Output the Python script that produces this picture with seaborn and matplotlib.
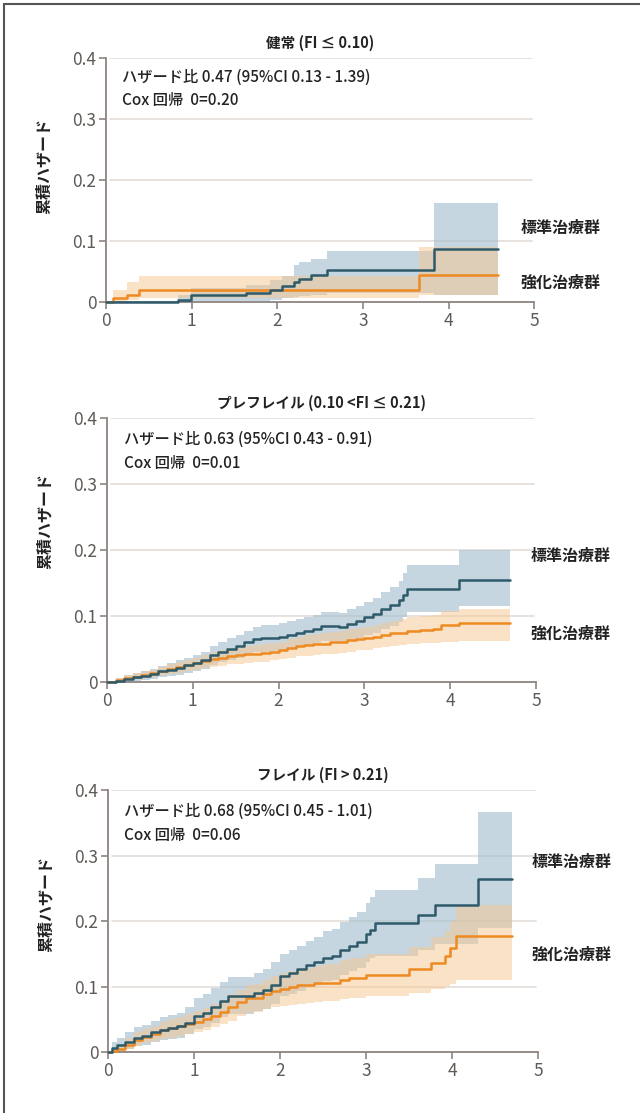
import numpy as np
import pandas as pd
import seaborn as sns
import matplotlib.pyplot as plt
from matplotlib.lines import Line2D
from matplotlib.ticker import FuncFormatter

# ---- data ----
titles = ["健常 (FI ≤ 0.10)", "プレフレイル (0.10 <FI ≤ 0.21)", "フレイル (FI > 0.21)"]
hr_texts = ["ハザード比 0.47 (95%CI 0.13 - 1.39)",
            "ハザード比 0.63 (95%CI 0.43 - 0.91)",
            "ハザード比 0.68 (95%CI 0.45 - 1.01)"]
cox_texts = ["Cox 回帰  0=0.20", "Cox 回帰  0=0.01", "Cox 回帰  0=0.06"]
group_names = ["標準治療群", "強化治療群"]

# panel 1 : normal
std1_t = [0, 0.84, 0.99, 1.63, 1.91, 2.06, 2.2, 2.25, 2.39, 2.58, 3.83, 4.58]
std1_h = [0, 0.003, 0.011, 0.015, 0.02, 0.026, 0.032, 0.038, 0.044, 0.052, 0.087, 0.087]
std1_lo = [0, 0, 0.001, 0.002, 0.004, 0.006, 0.008, 0.01, 0.012, 0.015, 0.012, 0.012]
std1_hi = [0, 0.012, 0.023, 0.028, 0.036, 0.043, 0.06, 0.065, 0.07, 0.083, 0.163, 0.163]
int1_t = [0, 0.08, 0.25, 0.38, 3.66, 4.58]
int1_h = [0, 0.006, 0.012, 0.02, 0.044, 0.044]
int1_lo = [0, 0.001, 0.003, 0.006, 0.012, 0.012]
int1_hi = [0, 0.02, 0.032, 0.042, 0.09, 0.09]

# panel 2 : pre-frail
std2_t = [0, 0.1, 0.2, 0.3, 0.4, 0.5, 0.6, 0.7, 0.8, 0.9, 1.0, 1.1, 1.2, 1.3, 1.4,
          1.5, 1.6, 1.7, 1.8, 1.9, 2.0, 2.1, 2.2, 2.3, 2.4, 2.5, 2.6, 2.7, 2.8, 2.9,
          3.0, 3.1, 3.2, 3.3, 3.4, 3.45, 3.5, 4.1, 4.7]
std2_h = [0, 0.002, 0.004, 0.007, 0.009, 0.012, 0.016, 0.019, 0.022, 0.026, 0.029,
          0.033, 0.041, 0.046, 0.05, 0.055, 0.06, 0.065, 0.066, 0.067, 0.069, 0.072,
          0.075, 0.078, 0.081, 0.085, 0.085, 0.084, 0.088, 0.092, 0.098, 0.103, 0.11,
          0.116, 0.124, 0.132, 0.141, 0.155, 0.155]
std2_lo = [0, 0, 0.001, 0.002, 0.003, 0.005, 0.007, 0.009, 0.011, 0.014, 0.017,
           0.02, 0.026, 0.03, 0.033, 0.037, 0.041, 0.045, 0.046, 0.047, 0.049, 0.052,
           0.054, 0.056, 0.058, 0.062, 0.062, 0.061, 0.064, 0.067, 0.071, 0.075, 0.08,
           0.085, 0.091, 0.098, 0.106, 0.115, 0.115]
std2_hi = [0, 0.006, 0.01, 0.014, 0.017, 0.02, 0.025, 0.029, 0.033, 0.037, 0.041,
           0.046, 0.055, 0.061, 0.066, 0.072, 0.078, 0.084, 0.086, 0.087, 0.089, 0.092,
           0.095, 0.099, 0.102, 0.106, 0.106, 0.105, 0.11, 0.115, 0.122, 0.128, 0.137,
           0.144, 0.153, 0.165, 0.177, 0.2, 0.2]
int2_t = [0, 0.1, 0.2, 0.3, 0.4, 0.5, 0.6, 0.7, 0.8, 0.9, 1.0, 1.1, 1.2, 1.3, 1.4,
          1.5, 1.6, 1.7, 1.8, 1.9, 2.0, 2.1, 2.2, 2.3, 2.4, 2.5, 2.6, 2.7, 2.8, 2.9,
          3.0, 3.1, 3.2, 3.3, 3.4, 3.5, 3.65, 3.8, 3.9, 4.1, 4.7]
int2_h = [0, 0.003, 0.006, 0.008, 0.011, 0.014, 0.017, 0.02, 0.023, 0.026, 0.029,
          0.032, 0.035, 0.037, 0.04, 0.041, 0.042, 0.043, 0.044, 0.046, 0.048, 0.051,
          0.054, 0.056, 0.057, 0.058, 0.06, 0.061, 0.063, 0.065, 0.066, 0.069, 0.071,
          0.074, 0.075, 0.077, 0.079, 0.08, 0.086, 0.09, 0.09]
int2_lo = [0, 0.001, 0.003, 0.004, 0.006, 0.008, 0.01, 0.012, 0.014, 0.016, 0.019,
           0.021, 0.023, 0.025, 0.027, 0.028, 0.029, 0.03, 0.031, 0.033, 0.035, 0.037,
           0.039, 0.04, 0.041, 0.042, 0.043, 0.044, 0.046, 0.048, 0.049, 0.051, 0.053,
           0.055, 0.056, 0.058, 0.059, 0.059, 0.06, 0.062, 0.062]
int2_hi = [0, 0.006, 0.01, 0.013, 0.016, 0.019, 0.023, 0.027, 0.03, 0.033, 0.037,
           0.041, 0.045, 0.048, 0.052, 0.054, 0.055, 0.056, 0.058, 0.059, 0.061, 0.065,
           0.068, 0.071, 0.073, 0.074, 0.076, 0.078, 0.08, 0.082, 0.084, 0.087, 0.09,
           0.093, 0.095, 0.098, 0.1, 0.102, 0.108, 0.11, 0.11]

# panel 3 : frail
std3_t = [0, 0.05, 0.1, 0.2, 0.3, 0.4, 0.5, 0.6, 0.7, 0.8, 0.9, 1.0, 1.1, 1.2, 1.3,
          1.4, 1.5, 1.6, 1.7, 1.8, 1.9, 2.0, 2.1, 2.2, 2.3, 2.4, 2.5, 2.6, 2.7, 2.8,
          2.9, 3.0, 3.05, 3.1, 3.6, 3.8, 4.3, 4.7]
std3_h = [0, 0.006, 0.01, 0.016, 0.022, 0.024, 0.03, 0.034, 0.037, 0.039, 0.045,
          0.055, 0.06, 0.068, 0.078, 0.085, 0.085, 0.085, 0.09, 0.095, 0.103, 0.116,
          0.12, 0.126, 0.133, 0.137, 0.144, 0.146, 0.155, 0.162, 0.168, 0.18, 0.187,
          0.197, 0.209, 0.224, 0.264, 0.264]
std3_lo = [0, 0.001, 0.002, 0.005, 0.009, 0.011, 0.015, 0.018, 0.02, 0.022, 0.027,
           0.035, 0.038, 0.045, 0.053, 0.058, 0.058, 0.058, 0.062, 0.066, 0.073, 0.085,
           0.088, 0.093, 0.099, 0.102, 0.108, 0.11, 0.117, 0.123, 0.128, 0.138, 0.143,
           0.147, 0.155, 0.165, 0.19, 0.19]
std3_hi = [0, 0.015, 0.022, 0.03, 0.038, 0.041, 0.048, 0.053, 0.057, 0.06, 0.068,
           0.083, 0.089, 0.098, 0.107, 0.115, 0.115, 0.115, 0.121, 0.127, 0.137, 0.15,
           0.155, 0.162, 0.17, 0.175, 0.185, 0.188, 0.198, 0.206, 0.213, 0.228, 0.237,
           0.248, 0.265, 0.287, 0.366, 0.366]
int3_t = [0, 0.05, 0.1, 0.2, 0.3, 0.4, 0.5, 0.6, 0.7, 0.8, 0.9, 1.0, 1.1, 1.2, 1.3,
          1.4, 1.5, 1.6, 1.7, 1.8, 1.9, 2.0, 2.1, 2.2, 2.3, 2.4, 2.5, 2.7, 2.8, 3.0,
          3.5, 3.76, 3.92, 3.97, 4.04, 4.7]
int3_h = [0, 0.002, 0.004, 0.011, 0.018, 0.023, 0.028, 0.033, 0.036, 0.04, 0.043,
          0.046, 0.05, 0.055, 0.061, 0.068, 0.076, 0.082, 0.083, 0.088, 0.093, 0.096,
          0.099, 0.102, 0.103, 0.105, 0.106, 0.11, 0.113, 0.118, 0.126, 0.136, 0.146,
          0.159, 0.177, 0.177]
int3_lo = [0, 0, 0.001, 0.004, 0.009, 0.013, 0.017, 0.02, 0.022, 0.025, 0.028,
           0.031, 0.034, 0.038, 0.043, 0.048, 0.055, 0.06, 0.061, 0.065, 0.068, 0.07,
           0.072, 0.074, 0.075, 0.077, 0.078, 0.081, 0.083, 0.085, 0.09, 0.096, 0.101,
           0.104, 0.11, 0.11]
int3_hi = [0, 0.008, 0.012, 0.022, 0.03, 0.035, 0.04, 0.046, 0.05, 0.054, 0.058,
           0.062, 0.067, 0.073, 0.08, 0.088, 0.095, 0.102, 0.104, 0.11, 0.116, 0.12,
           0.124, 0.127, 0.129, 0.132, 0.135, 0.14, 0.143, 0.15, 0.16, 0.175, 0.185,
           0.2, 0.225, 0.225]

panels = [
    (std1_t, std1_h, std1_lo, std1_hi, int1_t, int1_h, int1_lo, int1_hi),
    (std2_t, std2_h, std2_lo, std2_hi, int2_t, int2_h, int2_lo, int2_hi),
    (std3_t, std3_h, std3_lo, std3_hi, int3_t, int3_h, int3_lo, int3_hi),
]

# ---- style ----
sns.set_theme(style="white")
plt.rcParams['font.family'] = ['Noto Sans CJK JP', 'DejaVu Sans']

STD_LINE = "#2e5a6a"
STD_BAND = "#a3bdcd"
INT_LINE = "#ee8a22"
INT_BAND = "#f6c892"
AXIS_COL = "#8d8480"
GRID_COL = "#e4ddd9"
TICK_COL = "#5f5a56"

# axes rectangles [left, bottom, width, height] in figure fraction
rects = [
    [0.1656, 0.7287, 0.669, 0.2192],
    [0.1672, 0.3872, 0.670, 0.2372],
    [0.1688, 0.0548, 0.672, 0.2354],
]
label_pos = [
    ((4.84, 0.121), (4.84, 0.031)),
    ((4.94, 0.191), (4.94, 0.073)),
    ((4.92, 0.290), (4.92, 0.148)),
]
ylabel_y = [0.557, 0.61, 0.565]
text_x = [0.19, 0.2, 0.19]

fig = plt.figure(figsize=(6.4, 11.13), dpi=100)

for i, (rect, data) in enumerate(zip(rects, panels)):
    st, sh, slo, shi, it, ih, ilo, ihi = data
    ax = fig.add_axes(rect)

    for yv in [0.1, 0.2, 0.3, 0.4]:
        ax.axhline(yv, color=GRID_COL, lw=1.2, zorder=0, xmin=0.01, xmax=0.995)

    ax.fill_between(st, slo, shi, step="post", color=STD_BAND, alpha=0.62,
                    lw=0, zorder=1)
    ax.fill_between(it, ilo, ihi, step="post", color=INT_BAND, alpha=0.52,
                    lw=0, zorder=2)

    df_s = pd.DataFrame({"t": st, "h": sh})
    df_i = pd.DataFrame({"t": it, "h": ih})
    sns.lineplot(data=df_s, x="t", y="h", ax=ax, color=STD_LINE, lw=1.8,
                 drawstyle="steps-post", zorder=4, clip_on=False)
    sns.lineplot(data=df_i, x="t", y="h", ax=ax, color=INT_LINE, lw=1.8,
                 drawstyle="steps-post", zorder=3, clip_on=False)

    ax.set_xlim(0, 5)
    ax.set_ylim(0, 0.4)
    ax.set_xticks(range(6))
    ax.set_yticks([0, 0.1, 0.2, 0.3, 0.4])
    ax.yaxis.set_major_formatter(FuncFormatter(lambda v, p: "0" if v == 0 else f"{v:.1f}"))
    for s in ["top", "right"]:
        ax.spines[s].set_visible(False)
    for s in ["left", "bottom"]:
        ax.spines[s].set_color(AXIS_COL)
        ax.spines[s].set_linewidth(1.3)
        ax.spines[s].set_zorder(2.5)
    ax.tick_params(axis="both", which="major", direction="out", length=5,
                   width=1.2, color=AXIS_COL, labelcolor=TICK_COL,
                   labelsize=12.5, pad=2, bottom=True, left=True)
    ax.set_xlabel("")
    ax.set_ylabel("累積ハザード", fontsize=11.5, fontweight="bold", color="#222222")
    ax.yaxis.set_label_coords(-0.126, ylabel_y[i])

    ax.set_title(titles[i], fontsize=10.5, fontweight="bold", color="#222222", pad=7)
    ax.text(text_x[i], 0.368, hr_texts[i], fontsize=11, fontweight="medium",
            color="#222222", ha="left", va="center")
    ax.text(text_x[i], 0.331, cox_texts[i], fontsize=11, fontweight="medium",
            color="#222222", ha="left", va="center")

    (sx, sy), (ix, iy) = label_pos[i]
    ax.text(sx, sy, group_names[0], fontsize=11.5, fontweight="bold",
            color="#222222", ha="left", va="center", clip_on=False)
    ax.text(ix, iy, group_names[1], fontsize=11.5, fontweight="bold",
            color="#222222", ha="left", va="center", clip_on=False)

# thin frame on top and left edge
fig.add_artist(Line2D([0.006, 1.0], [0.9965, 0.9965], transform=fig.transFigure,
                      color="#555555", lw=1.5))
fig.add_artist(Line2D([0.006, 0.006], [0.0, 0.9965], transform=fig.transFigure,
                      color="#555555", lw=1.5))

fig.savefig("out.png", dpi=100)
